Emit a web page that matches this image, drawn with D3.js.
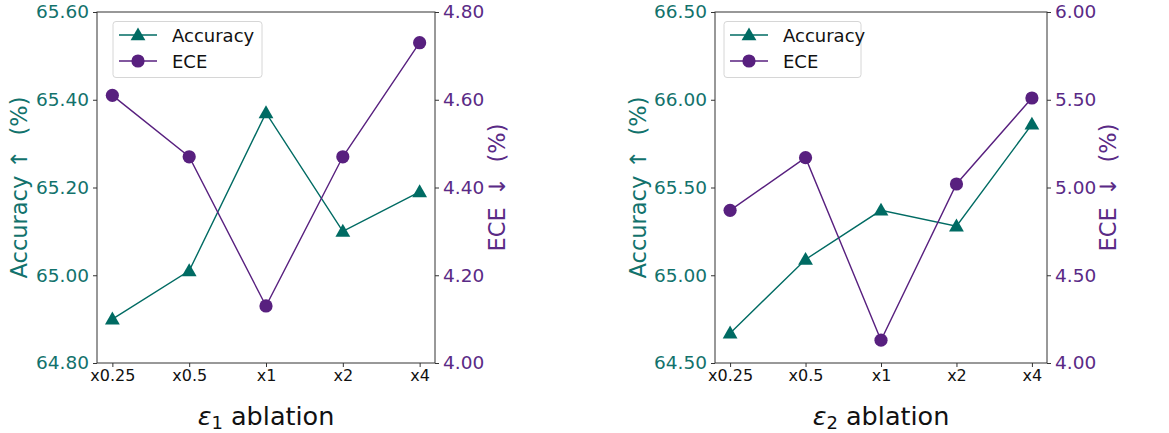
<!DOCTYPE html>
<html>
<head>
<meta charset="utf-8">
<script src="https://cdn.jsdelivr.net/npm/d3@7"></script>
<style>
  html, body { margin: 0; padding: 0; background: #fff; }
  svg { display: block; font-family: "DejaVu Sans", sans-serif; }
</style>
</head>
<body>
<svg id="chart" width="1169" height="433"></svg>
<script>
// ---- data ----
const categories = ["x0.25", "x0.5", "x1", "x2", "x4"];

const accuracy1 = [64.90, 65.01, 65.37, 65.10, 65.19];
const ece1      = [4.61, 4.47, 4.13, 4.47, 4.73];
const accTicks1 = [64.80, 65.00, 65.20, 65.40, 65.60];
const eceTicks1 = [4.00, 4.20, 4.40, 4.60, 4.80];

const accuracy2 = [64.67, 65.09, 65.37, 65.28, 65.86];
const ece2      = [4.87, 5.17, 4.13, 5.02, 5.51];
const accTicks2 = [64.50, 65.00, 65.50, 66.00, 66.50];
const eceTicks2 = [4.00, 4.50, 5.00, 5.50, 6.00];

const xLabelSubs = ["1", "2"];
const seriesNames = ["Accuracy", "ECE"];

// ---- style ----
const TEAL = "#006b63";
const TEAL_TEXT = "#12726c";
const PURPLE = "#58207f";
const PURPLE_TEXT = "#5a2a86";
const AXIS = "#333";

const svg = d3.select("#chart");

function drawPanel(cfg) {
  const { left, right, top, bottom, acc, ece, accTicks, eceTicks, sub, legLeft, legRight, yLabL, yLabR } = cfg;
  const g = svg.append("g");

  // matplotlib 5% margin: padding in step units = 0.05*(n-1) = 0.2
  const x = d3.scalePoint().domain(categories).range([left, right]).padding(0.2);

  const yA = d3.scaleLinear().domain([accTicks[0], accTicks[accTicks.length - 1]]).range([bottom, top]);
  const yE = d3.scaleLinear().domain([eceTicks[0], eceTicks[eceTicks.length - 1]]).range([bottom, top]);

  // frame
  g.append("rect").attr("x", left).attr("y", top).attr("width", right - left).attr("height", bottom - top)
    .attr("fill", "none").attr("stroke", AXIS).attr("stroke-width", 1);

  // left axis
  const axL = g.append("g").attr("transform", `translate(${left},0)`)
    .call(d3.axisLeft(yA).tickValues(accTicks).tickFormat(d3.format(".2f")).tickSize(4).tickPadding(4));
  axL.select(".domain").remove();
  axL.selectAll("line").attr("stroke", AXIS);
  axL.selectAll("text").attr("fill", TEAL_TEXT).style("font-size", "18.5px").attr("font-family", "DejaVu Sans");

  // right axis
  const axR = g.append("g").attr("transform", `translate(${right},0)`)
    .call(d3.axisRight(yE).tickValues(eceTicks).tickFormat(d3.format(".2f")).tickSize(4).tickPadding(4));
  axR.select(".domain").remove();
  axR.selectAll("line").attr("stroke", AXIS);
  axR.selectAll("text").attr("fill", PURPLE_TEXT).style("font-size", "18.5px").attr("font-family", "DejaVu Sans");

  // bottom axis
  const axB = g.append("g").attr("transform", `translate(0,${bottom})`)
    .call(d3.axisBottom(x).tickSize(4).tickPadding(3));
  axB.select(".domain").remove();
  axB.selectAll("line").attr("stroke", AXIS);
  axB.selectAll("text").attr("fill", "#111").style("font-size", "16px").attr("font-family", "DejaVu Sans");

  // y labels
  g.append("text")
    .attr("transform", `translate(${yLabL},${(top + bottom) / 2}) rotate(-90)`)
    .attr("text-anchor", "middle").attr("dominant-baseline", "central")
    .attr("fill", TEAL_TEXT).style("font-size", "22.5px").style("white-space", "pre")
    .text("Accuracy \u2191  (%)");
  g.append("text")
    .attr("transform", `translate(${yLabR},${(top + bottom) / 2}) rotate(-90)`)
    .attr("text-anchor", "middle").attr("dominant-baseline", "central")
    .attr("fill", PURPLE_TEXT).style("font-size", "22.5px").style("white-space", "pre")
    .text("ECE \u2009\u2193  (%)");

  // x label
  const xl = g.append("text")
    .attr("x", (left + right) / 2).attr("y", 425)
    .attr("text-anchor", "middle").attr("fill", "#111").style("font-size", "25.5px");
  xl.append("tspan").attr("font-style", "italic").text("\u03b5");
  xl.append("tspan").attr("dy", 4).style("font-size", "18px").text(sub);
  xl.append("tspan").attr("dy", -4).text(" ablation");

  // lines
  const lineA = d3.line().x((d, i) => x(categories[i])).y(d => yA(d));
  const lineE = d3.line().x((d, i) => x(categories[i])).y(d => yE(d));

  g.append("path").datum(acc).attr("d", lineA).attr("fill", "none").attr("stroke", TEAL).attr("stroke-width", 1.4);
  g.append("path").datum(ece).attr("d", lineE).attr("fill", "none").attr("stroke", PURPLE).attr("stroke-width", 1.4);

  const tri = d3.symbol().type(d3.symbolTriangle).size(95);
  g.selectAll(".tri").data(acc).join("path")
    .attr("transform", (d, i) => `translate(${x(categories[i])},${yA(d) + 1})`)
    .attr("d", tri).attr("fill", TEAL);
  g.selectAll(".dot").data(ece).join("circle")
    .attr("cx", (d, i) => x(categories[i])).attr("cy", d => yE(d)).attr("r", 6.6).attr("fill", PURPLE);

  // legend
  const lg = g.append("g");
  lg.append("rect").attr("x", legLeft).attr("y", 21.5).attr("width", legRight - legLeft).attr("height", 56)
    .attr("rx", 3).attr("fill", "rgba(255,255,255,0.8)").attr("stroke", "#d6d6d6").attr("stroke-width", 1);
  const rows = [
    { name: seriesNames[0], color: TEAL, y: 35, shape: "tri" },
    { name: seriesNames[1], color: PURPLE, y: 61, shape: "dot" }
  ];
  rows.forEach(r => {
    const x0 = legLeft + 6, x1 = legLeft + 44, xm = (x0 + x1) / 2;
    lg.append("line").attr("x1", x0).attr("x2", x1).attr("y1", r.y).attr("y2", r.y)
      .attr("stroke", r.color).attr("stroke-width", 1.4);
    if (r.shape === "tri") {
      lg.append("path").attr("transform", `translate(${xm},${r.y + 1})`).attr("d", tri).attr("fill", r.color);
    } else {
      lg.append("circle").attr("cx", xm).attr("cy", r.y).attr("r", 6.6).attr("fill", r.color);
    }
    lg.append("text").attr("x", legLeft + 59).attr("y", r.y).attr("dominant-baseline", "central")
      .attr("fill", "#111").style("font-size", "18px").text(r.name);
  });
}

drawPanel({ left: 97, right: 435, top: 12, bottom: 363, acc: accuracy1, ece: ece1,
  accTicks: accTicks1, eceTicks: eceTicks1, sub: xLabelSubs[0], legLeft: 113, legRight: 262, yLabL: 19, yLabR: 497 });
drawPanel({ left: 715, right: 1047, top: 12, bottom: 363, acc: accuracy2, ece: ece2,
  accTicks: accTicks2, eceTicks: eceTicks2, sub: xLabelSubs[1], legLeft: 724, legRight: 861, yLabL: 638, yLabR: 1108 });
</script>
</body>
</html>
